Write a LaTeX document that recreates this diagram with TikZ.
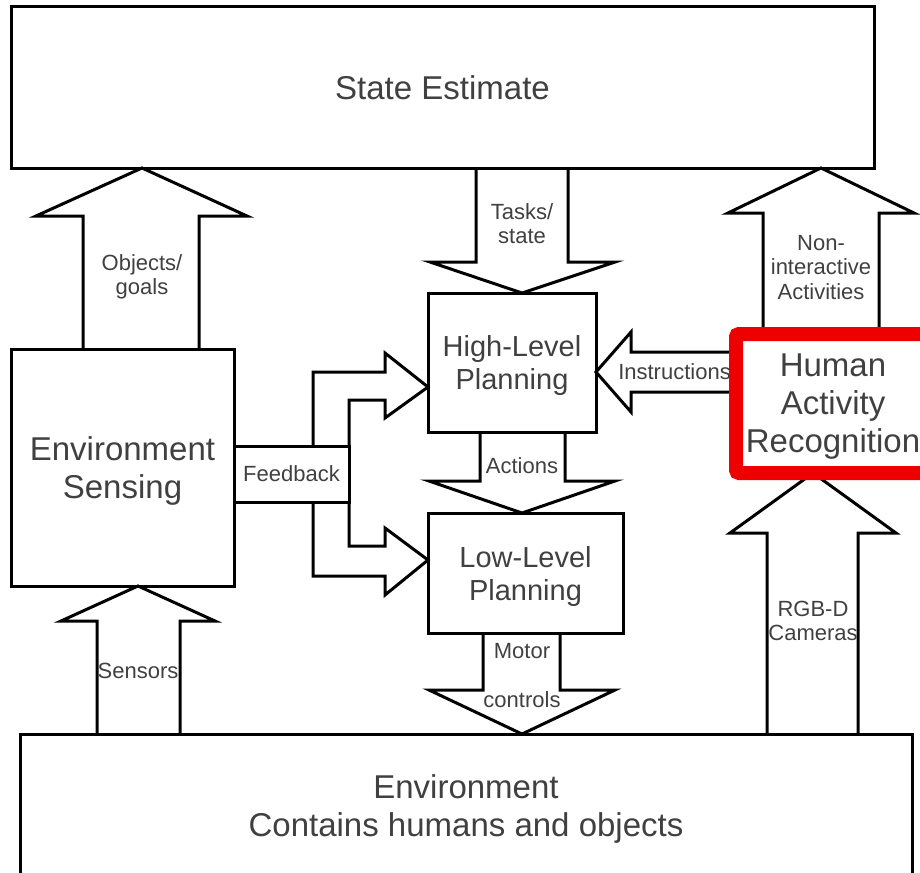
\documentclass[tikz,border=0pt]{standalone}
\usepackage{fontspec}
\setmainfont{Liberation Sans}
\usepackage{tikz}
\usetikzlibrary{calc,backgrounds}
\definecolor{txtgray}{HTML}{404040}
\definecolor{harred}{HTML}{EE0000}

\begin{document}
\begin{tikzpicture}[x=1pt,y=-1pt,
  box/.style={draw,line width=3pt,outer sep=0pt,inner sep=0pt,align=center,text depth=0pt,text=txtgray,font=\fontsize{33}{38}\selectfont},
  plan/.style={box,font=\fontsize{29}{33}\selectfont},
  lbl/.style={text=txtgray,align=center,inner sep=0pt,text depth=0pt,font=\fontsize{22}{24.5}\selectfont},
  blk/.style={line width=3pt,line join=miter}]
\useasboundingbox (0,0) rectangle (920,872);

\node[box,minimum width=863pt,minimum height=161pt] (state) at (442.5,87.5) {State Estimate};
\node[box,minimum width=223pt,minimum height=237pt] (envs) at (122.5,467.5) {Environment\\Sensing};
\node[plan,minimum width=168pt,minimum height=139pt] (hlp) at (512,362.5) {High-Level\\Planning};
\node[plan,minimum width=195pt,minimum height=120pt] (llp) at (525.5,573) {Low-Level\\Planning};
\node[box,draw=harred,line width=14pt,rounded corners=3pt,minimum width=194pt,minimum height=139pt] (har) at (833,403.5) {Human\\Activity\\Recognition};
\node[box,minimum width=892pt,minimum height=144pt] (env) at (466,806) {Environment\\Contains humans and objects};
\node[box,font=\fontsize{22}{24.5}\selectfont,minimum width=115pt,minimum height=56pt] (fb) at (291.5,474) {Feedback};

\begin{scope}[on background layer]
\draw[blk] (83,0 |- envs.north) -- (83,216) -- (36,216) -- (142,0 |- state.south) -- (247,216) -- (199,216) -- (199,0 |- envs.north);
\draw[blk] (476,0 |- state.south) -- (476,262) -- (430,262) -- (522,0 |- hlp.north) -- (615,262) -- (568,262) -- (568,0 |- state.south);
\draw[blk] (763,0 |- har.north) -- (763,213) -- (728,213) -- (821,0 |- state.south) -- (914,213) -- (879,213) -- (879,0 |- har.north);
\draw[blk] (har.west |- 0,352) -- (631,352) -- (631,332) -- (hlp.east |- 0,372) -- (631,412) -- (631,392) -- (har.west |- 0,392);
\draw[blk] (480,0 |- hlp.south) -- (480,481) -- (429,481) -- (522,0 |- llp.north) -- (615,481) -- (565,481) -- (565,0 |- hlp.south);
\draw[blk] (483,0 |- llp.south) -- (483,690) -- (429,690) -- (522,0 |- env.north) -- (615,690) -- (560,690) -- (560,0 |- llp.south);
\draw[blk] (767,0 |- env.north) -- (767,533) -- (730,533) -- (813,0 |- har.south) -- (896,533) -- (858,533) -- (858,0 |- env.north);
\draw[blk] (97,0 |- env.north) -- (97,621) -- (61,621) -- (138,0 |- envs.south) -- (215,621) -- (180,621) -- (180,0 |- env.north);
\draw[blk] (313,0 |- fb.north) -- (313,372) -- (385,372) -- (385,353) -- (hlp.west |- 0,387) -- (385,418) -- (385,400) -- (349,400) -- (fb.north east);
\draw[blk] (fb.south east) -- (349,546) -- (385,546) -- (385,528) -- (llp.west |- 0,560) -- (385,595) -- (385,576) -- (313,576) -- (313,0 |- fb.south);
\end{scope}

\node[lbl] (objlbl) at (142,274.5) {Objects/\\goals};
\node[lbl] (tasklbl) at (522,223.5) {Tasks/\\state};
\node[lbl] (nonlbl) at (821,267) {Non-\\interactive\\Activities};
\node[lbl] (inslbl) at (674.5,372) {Instructions};
\node[lbl] (actlbl) at (522,466) {Actions};
\node[lbl] (motlbl) at (522,651) {Motor};
\node[lbl] (ctllbl) at (522,700) {controls};
\node[lbl] (rgblbl) at (813,621) {RGB-D\\Cameras};
\node[lbl] (senlbl) at (138,671) {Sensors};
\end{tikzpicture}
\end{document}
